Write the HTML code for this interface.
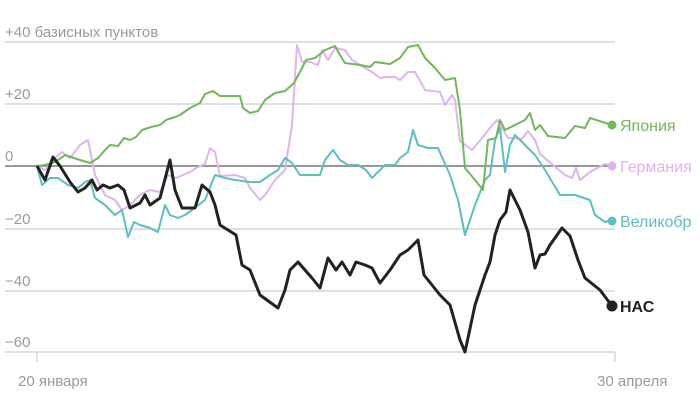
<!DOCTYPE html>
<html><head><meta charset="utf-8"><style>
html,body{margin:0;padding:0;background:#fff;width:700px;height:405px;overflow:hidden}
svg text{font-family:"Liberation Sans",sans-serif}
</style></head><body>
<svg width="700" height="405" viewBox="0 0 700 405">
<g stroke="#d6d6d6" stroke-width="1.5">
<line x1="5" y1="42" x2="615" y2="42"/><line x1="5" y1="104" x2="615" y2="104"/>
<line x1="5" y1="229" x2="615" y2="229"/><line x1="5" y1="291" x2="615" y2="291"/>
<line x1="5" y1="352" x2="615" y2="352"/>
<line x1="37" y1="352" x2="37" y2="362"/><line x1="615" y1="352" x2="615" y2="362"/>
</g>
<line x1="5" y1="166" x2="615" y2="166" stroke="#777" stroke-width="1.5"/>
<g fill="#9a9a9a" font-size="15">
<text x="5" y="37">+40 базисных пунктов</text>
<text x="5" y="99">+20</text>
<text x="5" y="161">0</text>
<text x="5" y="224">−20</text>
<text x="5" y="286">−40</text>
<text x="5" y="347">−60</text>
<text x="18" y="386">20 января</text>
<text x="597" y="386">30 апреля</text>
</g>
<g fill="none" stroke-width="2" stroke-linejoin="round">
<polyline stroke="#e0b4ec" points="37,166 45,170 55,158 62,152 70,158 80,145 88,140 95,175 105,195 115,200 122,210 130,205 140,195 150,190 160,192 168,175 176,178 190,172 196,168 205,164 210,148 215,152 220,176 235,175 245,178 250,188 260,200 265,195 275,180 285,170 292,125 297,45 302,62 310,62 318,65 322,50 328,60 335,48 345,50 352,60 360,65 372,72 380,78 385,77 395,77 400,80 408,72 415,72 425,90 440,92 445,105 452,95 455,100 460,141 472,150 483,137 490,128 497,120 508,138 522,139 528,131 535,140 540,154 565,175 572,178 576,168 580,180 590,172 605,164 612,166"/>
<polyline stroke="#5cbfc4" points="37,166 42,185 50,178 58,178 68,185 78,188 85,182 90,180 95,198 105,205 115,215 122,210 128,237 134,222 140,225 150,228 158,232 165,205 170,215 178,218 185,215 192,210 205,200 215,175 225,178 235,180 250,182 260,182 270,175 278,170 285,158 292,163 300,175 320,175 325,160 333,150 340,160 348,165 358,165 366,170 372,178 385,165 395,165 400,158 408,152 413,130 418,145 428,148 438,148 450,175 458,200 465,235 475,205 485,180 490,175 495,140 500,128 505,172 510,145 515,135 525,145 535,155 545,170 560,195 575,195 590,200 595,215 605,222 612,220"/>
<polyline stroke="#72b85a" points="37,166 45,165 55,162 65,155 80,160 90,163 98,158 105,150 110,145 118,146 124,138 130,140 136,137 142,130 148,128 155,126 160,125 166,120 175,117 180,115 190,108 200,103 205,94 213,91 220,96 240,96 243,108 250,113 258,111 265,100 275,93 285,91 294,83 300,72 306,60 315,58 325,50 335,46 340,55 345,63 360,65 370,67 375,62 390,64 400,58 408,47 418,45 425,58 435,68 445,80 455,78 460,110 465,168 475,180 483,190 488,140 496,138 500,120 505,130 515,125 525,120 530,113 535,130 540,125 548,136 565,138 575,126 585,128 590,118 612,125"/>
<polyline stroke="#222" stroke-width="3" points="37,166 45,180 53,157 60,166 70,182 78,192 85,188 92,180 97,190 103,185 110,188 118,185 124,190 130,208 136,205 140,203 145,195 150,205 160,198 170,160 175,190 182,208 195,208 202,185 210,192 215,205 220,225 236,235 242,265 250,270 260,295 278,308 285,290 290,270 298,262 305,270 312,278 320,288 328,258 336,270 342,262 350,275 356,262 365,265 372,268 380,283 390,270 400,255 408,250 418,240 424,275 432,285 440,295 450,305 460,340 465,352 475,305 485,275 490,262 495,235 500,220 506,212 510,190 515,200 520,210 528,232 535,268 540,255 545,254 550,245 562,228 570,236 578,260 585,278 600,290 612,306"/>
</g>
<circle cx="612" cy="125" r="4.5" fill="#72b85a"/>
<circle cx="612" cy="166" r="4.5" fill="#e0b4ec"/>
<circle cx="612" cy="221" r="4.5" fill="#5cbfc4"/>
<circle cx="612" cy="306" r="5.5" fill="#222"/>
<g font-size="16">
<text x="620" y="131" fill="#72b85a">Япония</text>
<text x="620" y="172" fill="#e0b4ec">Германия</text>
<text x="620" y="227" fill="#5cbfc4">Великобр</text>
<text x="620" y="312" fill="#222" font-weight="bold">НАС</text>
</g>
</svg>
</body></html>
